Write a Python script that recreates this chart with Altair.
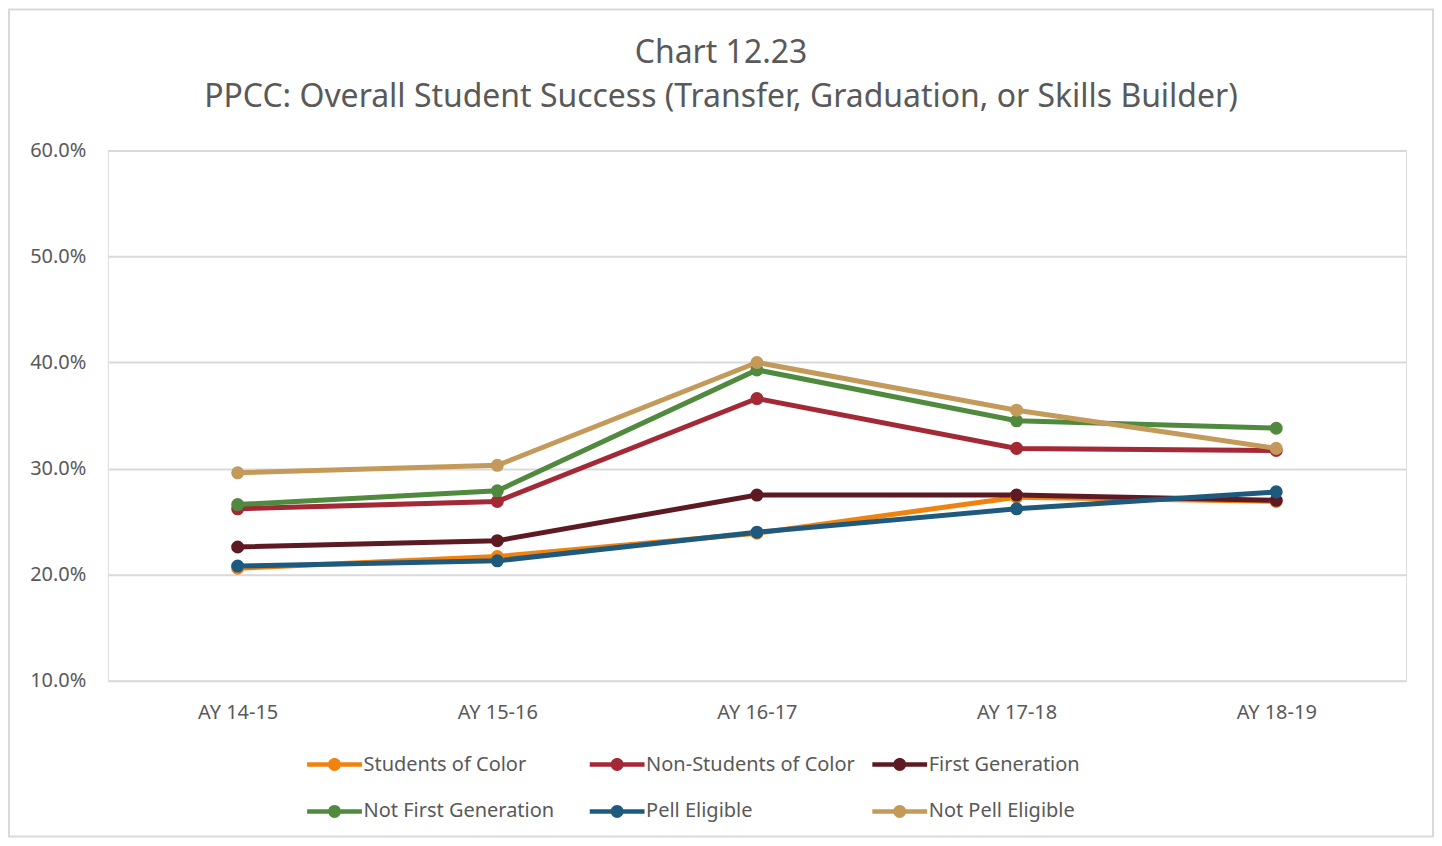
import altair as alt
import pandas as pd

years = ["AY 14-15", "AY 15-16", "AY 16-17", "AY 17-18", "AY 18-19"]
series_names = ["Students of Color", "Non-Students of Color", "First Generation",
                "Not First Generation", "Pell Eligible", "Not Pell Eligible"]
students_of_color = [20.6, 21.7, 23.9, 27.3, 26.9]
non_students_of_color = [26.2, 26.9, 36.6, 31.9, 31.7]
first_generation = [22.6, 23.2, 27.5, 27.5, 27.0]
not_first_generation = [26.6, 27.9, 39.3, 34.5, 33.8]
pell_eligible = [20.8, 21.3, 24.0, 26.2, 27.8]
not_pell_eligible = [29.6, 30.3, 40.0, 35.5, 31.9]
colors = ["#F0820F", "#A42937", "#5E1A23", "#4F8A3E", "#1E5A7E", "#C49A5A"]

all_values = [students_of_color, non_students_of_color, first_generation,
              not_first_generation, pell_eligible, not_pell_eligible]
rows = []
for name, vals in zip(series_names, all_values):
    for yr, v in zip(years, vals):
        rows.append({"Year": yr, "Series": name, "Value": v / 100.0})
df = pd.DataFrame(rows)

FONT = "Noto Sans"
GREY = "#595959"

x_enc = alt.X("Year:N", sort=years, scale=alt.Scale(type="point", padding=0.5),
              axis=alt.Axis(title=None, labelAngle=0, domain=False, ticks=False,
                            labelPadding=22, labelFontSize=20, labelColor=GREY,
                            labelFont=FONT, grid=False))
y_enc = alt.Y("Value:Q", scale=alt.Scale(domain=[0.1, 0.6], nice=False, zero=False),
              axis=alt.Axis(title=None, format=".1%", values=[0.1, 0.2, 0.3, 0.4, 0.5, 0.6],
                            domain=False, ticks=False, labelPadding=22,
                            labelFontSize=20, labelColor=GREY, labelFont=FONT,
                            gridColor="#D9D9D9", gridWidth=2))

sym_path = ("M-1.83,-0.15L1.83,-0.15L1.83,0.15L-1.83,0.15Z "
            "M-0.43,0A0.43,0.43,0,1,1,0.43,0A0.43,0.43,0,1,1,-0.43,0Z")

legend = alt.Legend(title=None, orient="none", legendX=212, legendY=600,
                    direction="horizontal", columns=3, gridAlign="all",
                    columnPadding=16, rowPadding=22, labelLimit=400,
                    symbolType=sym_path, symbolSize=900, symbolStrokeWidth=0,
                    labelOffset=14, labelFontSize=20, labelColor=GREY, labelFont=FONT,
                    symbolOpacity=1)

lines = alt.Chart(df).mark_line(strokeWidth=5).encode(
    x=x_enc, y=y_enc,
    stroke=alt.Stroke("Series:N", sort=series_names,
                      scale=alt.Scale(domain=series_names, range=colors), legend=legend),
    detail="Series:N",
)
points = alt.Chart(df).mark_point(filled=True, size=170, opacity=1).encode(
    x=x_enc, y=y_enc,
    fill=alt.Fill("Series:N", sort=series_names,
                  scale=alt.Scale(domain=series_names, range=colors), legend=legend),
)
frame = alt.Chart(pd.DataFrame({"a": [0]})).mark_rect(
    filled=False, stroke="#D9D9D9", strokeWidth=2
).encode(x=alt.value(-99), x2=alt.value(1327), y=alt.value(-141), y2=alt.value(687))

chart = alt.layer(lines, points, frame).properties(
    width=1300, height=531,
    title=alt.TitleParams(
        text=["Chart 12.23",
              "PPCC: Overall Student Success (Transfer, Graduation, or Skills Builder)"],
        fontSize=32, font=FONT, color=GREY, fontWeight="normal", anchor="middle",
        lineHeight=45, offset=-106, dx=-36),
    autosize=alt.AutoSizeParams(type="none"),
    padding={"left": 100, "top": 142, "right": 28, "bottom": 157},
).configure_view(stroke=None).configure(background="white")

chart.save("out.html", embed_options={"renderer": "svg", "actions": False})
